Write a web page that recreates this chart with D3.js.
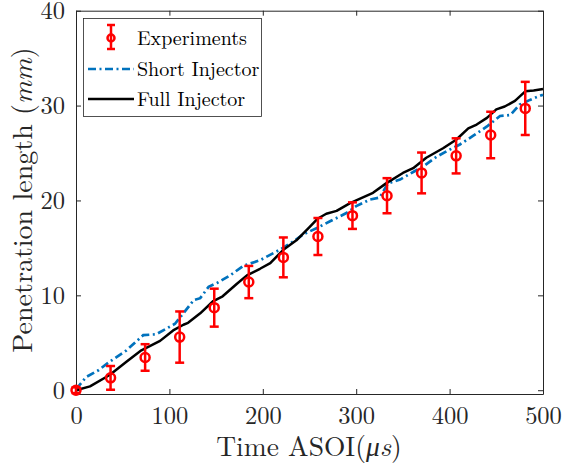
<!DOCTYPE html>
<html>
<head>
<meta charset="utf-8">
<script src="https://cdn.jsdelivr.net/npm/d3@7"></script>
<style>
  body { margin: 0; background: #fff; }
</style>
</head>
<body>
<div id="chart"></div>
<script>
// experiment points (time, length, error)
const expTime = [0, 37, 74, 111, 148, 185, 222, 259, 296, 333, 370, 407, 444, 481];
const expLen  = [0, 1.3, 3.45, 5.6, 8.7, 11.4, 14.0, 16.2, 18.4, 20.5, 22.9, 24.7, 26.9, 29.7];
const expErr  = [0.3, 1.25, 1.4, 2.7, 2.0, 1.7, 2.1, 1.95, 1.4, 1.85, 2.15, 1.85, 2.45, 2.8];

// short injector simulation
const shortTime = [0, 11, 24, 36, 54, 72, 86, 97, 106, 115, 126, 133, 142, 151, 165, 179, 197, 218, 233, 243,
                   258, 272, 290, 300, 315, 325, 334, 347, 361, 372, 386, 397, 411, 425, 440, 454, 465, 475, 486, 500];
const shortLen  = [0.1, 1.4, 2.1, 3.0, 4.2, 5.8, 5.9, 6.5, 7.0, 8.1, 9.5, 9.7, 10.9, 11.3, 12.1, 13.1, 13.7, 14.8, 15.7, 16.4,
                   17.1, 17.8, 18.7, 19.4, 20.1, 20.3, 21.8, 22.2, 23.0, 23.6, 24.6, 25.2, 25.9, 26.8, 27.8, 28.9, 29.0, 30.1, 30.6, 31.15];

// full injector simulation
const fullTime = [0, 15, 36, 54, 70, 90, 104, 115, 120, 133, 147, 157, 172, 183, 197, 208, 222, 236, 250, 259,
                  268, 279, 293, 300, 318, 332, 350, 361, 375, 393, 407, 420, 429, 440, 450, 459, 470, 481, 490, 500];
const fullLen  = [0, 0.4, 1.6, 3.0, 4.2, 5.2, 6.3, 6.9, 7.1, 8.1, 9.4, 9.9, 11.2, 12.1, 12.8, 13.4, 14.8, 15.8, 17.2, 18.1,
                  18.6, 18.9, 19.7, 20.0, 20.8, 21.8, 22.9, 23.4, 24.5, 25.5, 26.4, 27.6, 28.0, 28.7, 29.6, 29.9, 30.5, 31.5, 31.6, 31.75];

const xTicks = [0, 100, 200, 300, 400, 500];
const yTicks = [0, 10, 20, 30, 40];

const W = 563, H = 465;
const svg = d3.select("#chart").append("svg").attr("width", W).attr("height", H);

const x = d3.scaleLinear().domain([0, 500]).range([76, 543]);
const y = d3.scaleLinear().domain([-0.4, 40]).range([394, 10.7]);

const axisColor = "#262626";
const serif = '"Latin Modern Roman", "Liberation Serif", serif';
const dashDot = "8,3.5,2,3.5";

// axes (MATLAB style box, ticks inside)
svg.append("g").attr("transform", `translate(0,${y(-0.4)})`)
  .call(d3.axisBottom(x).tickValues(xTicks).tickSizeInner(-5).tickSizeOuter(0).tickPadding(13));
svg.append("g").attr("transform", `translate(0,${y(40)})`)
  .call(d3.axisTop(x).tickValues(xTicks).tickSizeInner(-5).tickSizeOuter(0).tickFormat(""));
svg.append("g").attr("transform", `translate(${x(0)},0)`)
  .call(d3.axisLeft(y).tickValues(yTicks).tickSizeInner(-5).tickSizeOuter(0).tickPadding(11));
svg.append("g").attr("transform", `translate(${x(500)},0)`)
  .call(d3.axisRight(y).tickValues(yTicks).tickSizeInner(-5).tickSizeOuter(0).tickFormat(""));
svg.selectAll(".domain, .tick line").attr("stroke", axisColor);
svg.selectAll(".tick text")
  .attr("fill", axisColor)
  .style("font-family", serif)
  .style("font-size", "24.5px");

const line = d3.line().x(d => x(d[0])).y(d => y(d[1]));

// short injector
svg.append("path")
  .datum(d3.zip(shortTime, shortLen))
  .attr("d", line)
  .attr("fill", "none")
  .attr("stroke", "#0072BD")
  .attr("stroke-width", 2.7)
  .attr("stroke-dasharray", dashDot);

// full injector
svg.append("path")
  .datum(d3.zip(fullTime, fullLen))
  .attr("d", line)
  .attr("fill", "none")
  .attr("stroke", "#000")
  .attr("stroke-width", 2.5)
  .attr("stroke-linejoin", "round");

// experiments with error bars
const exp = svg.append("g").selectAll("g")
  .data(d3.zip(expTime, expLen, expErr))
  .join("g")
  .attr("stroke", "#FF0000")
  .attr("stroke-width", 2.5)
  .attr("fill", "none");
exp.append("line")
  .attr("x1", d => x(d[0])).attr("x2", d => x(d[0]))
  .attr("y1", d => y(d[1] - d[2])).attr("y2", d => y(d[1] + d[2]));
exp.append("line")
  .attr("x1", d => x(d[0]) - 4.5).attr("x2", d => x(d[0]) + 4.5)
  .attr("y1", d => y(d[1] - d[2])).attr("y2", d => y(d[1] - d[2]));
exp.append("line")
  .attr("x1", d => x(d[0]) - 4.5).attr("x2", d => x(d[0]) + 4.5)
  .attr("y1", d => y(d[1] + d[2])).attr("y2", d => y(d[1] + d[2]));
exp.append("circle")
  .attr("cx", d => x(d[0])).attr("cy", d => y(d[1]))
  .attr("r", 4.5);

// axis labels
svg.append("text")
  .attr("x", 309).attr("y", 456)
  .attr("text-anchor", "middle")
  .style("font-family", serif).style("font-size", "27.5px").attr("fill", axisColor)
  .html('Time ASOI(<tspan font-style="italic">μs</tspan>)');

svg.append("text")
  .attr("transform", "translate(32,200) rotate(-90)")
  .attr("text-anchor", "middle")
  .style("font-family", serif).style("font-size", "28px").attr("fill", axisColor)
  .html('Penetration length (<tspan font-style="italic">mm</tspan>)');

// legend
const leg = svg.append("g");
leg.append("rect")
  .attr("x", 83.5).attr("y", 18.5).attr("width", 178).attr("height", 98)
  .attr("fill", "#fff").attr("stroke", axisColor).attr("stroke-width", 0.8);

const legItems = ["Experiments", "Short Injector", "Full Injector"];
const legY = [38, 69, 99];

legItems.forEach((name, i) => {
  leg.append("text")
    .attr("x", 137).attr("y", legY[i] + 7)
    .style("font-family", serif).style("font-size", "20px").attr("fill", "#000")
    .text(name);
});

const le = leg.append("g").attr("stroke", "#FF0000").attr("stroke-width", 2.5).attr("fill", "none");
le.append("line").attr("x1", 111).attr("x2", 111).attr("y1", legY[0] - 13).attr("y2", legY[0] + 11);
le.append("line").attr("x1", 107).attr("x2", 115).attr("y1", legY[0] - 13).attr("y2", legY[0] - 13);
le.append("line").attr("x1", 107).attr("x2", 115).attr("y1", legY[0] + 11).attr("y2", legY[0] + 11);
le.append("circle").attr("cx", 111).attr("cy", legY[0]).attr("r", 3.5);

leg.append("line").attr("x1", 88).attr("x2", 134).attr("y1", legY[1]).attr("y2", legY[1])
  .attr("stroke", "#0072BD").attr("stroke-width", 2.7).attr("stroke-dasharray", dashDot);
leg.append("line").attr("x1", 88).attr("x2", 134).attr("y1", legY[2]).attr("y2", legY[2])
  .attr("stroke", "#000").attr("stroke-width", 2.5);
</script>
</body>
</html>
